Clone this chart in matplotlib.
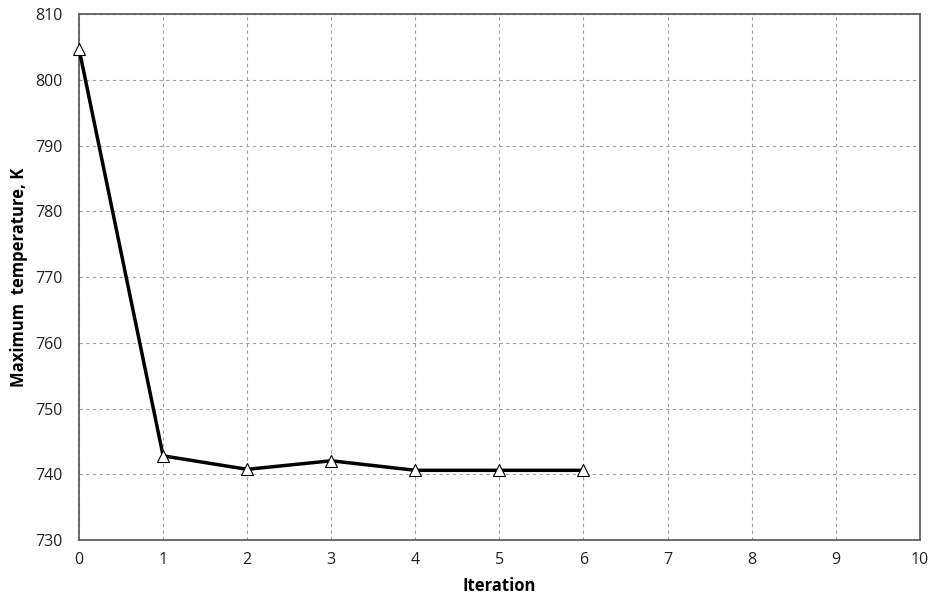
import matplotlib
matplotlib.use("Agg")
import matplotlib.pyplot as plt

iterations = [0, 1, 2, 3, 4, 5, 6]
max_temp = [804.7, 742.8, 740.75, 742.05, 740.6, 740.6, 740.6]
x_ticks = list(range(0, 11))
y_ticks = list(range(730, 811, 10))

plt.rcParams['font.family'] = ['Open Sans', 'DejaVu Sans']

fig = plt.figure(figsize=(9.3, 6.01), dpi=100)
ax = fig.add_axes([0.085, 0.1015, 0.904, 0.875])

ax.plot(iterations, max_temp, color='black', linewidth=2.5,
        marker='^', markersize=8, markerfacecolor='white',
        markeredgecolor='black', markeredgewidth=0.8, clip_on=False, zorder=3)

ax.set_xlim(0, 10)
ax.set_ylim(730, 810)
ax.set_xticks(x_ticks)
ax.set_yticks(y_ticks)
ax.grid(True, color='#a0a0a0', linestyle=(0, (3, 3)), linewidth=0.8)
ax.set_axisbelow(True)
for s in ax.spines.values():
    s.set_color('#555555')
    s.set_linewidth(1.2)
ax.tick_params(length=0, labelsize=11.5, colors='#222222')
ax.tick_params(axis='x', pad=9)
ax.tick_params(axis='y', pad=12)
ax.set_xlabel('Iteration', fontsize=12, fontweight='bold', labelpad=6)
ax.set_ylabel('Maximum  temperature, K', fontsize=12, fontweight='bold', labelpad=5)

fig.savefig('out.png', dpi=100)
